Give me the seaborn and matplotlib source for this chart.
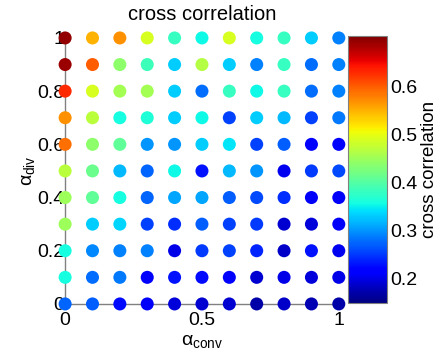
import numpy as np
import pandas as pd
import matplotlib
matplotlib.use('Agg')
import matplotlib.pyplot as plt
import seaborn as sns

# grid of alpha values
alpha_conv = [0.0, 0.1, 0.2, 0.3, 0.4, 0.5, 0.6, 0.7, 0.8, 0.9, 1.0]
alpha_div = [1.0, 0.9, 0.8, 0.7, 0.6, 0.5, 0.4, 0.3, 0.2, 0.1, 0.0]

# cross correlation, one row per alpha_div (top row = 1.0)
row_10 = [0.695, 0.55, 0.57, 0.49, 0.38, 0.355, 0.49, 0.36, 0.38, 0.33, 0.29]
row_09 = [0.69, 0.60, 0.44, 0.385, 0.33, 0.465, 0.33, 0.29, 0.38, 0.28, 0.29]
row_08 = [0.63, 0.49, 0.455, 0.455, 0.33, 0.28, 0.38, 0.355, 0.38, 0.28, 0.29]
row_07 = [0.57, 0.47, 0.36, 0.365, 0.33, 0.355, 0.255, 0.33, 0.32, 0.255, 0.285]
row_06 = [0.59, 0.44, 0.41, 0.30, 0.30, 0.33, 0.345, 0.255, 0.27, 0.22, 0.22]
row_05 = [0.47, 0.415, 0.32, 0.275, 0.355, 0.23, 0.32, 0.30, 0.205, 0.25, 0.26]
row_04 = [0.45, 0.41, 0.36, 0.275, 0.31, 0.31, 0.27, 0.26, 0.245, 0.21, 0.21]
row_03 = [0.45, 0.33, 0.335, 0.255, 0.245, 0.27, 0.255, 0.25, 0.19, 0.195, 0.21]
row_02 = [0.36, 0.295, 0.29, 0.29, 0.20, 0.25, 0.255, 0.24, 0.185, 0.23, 0.205]
row_01 = [0.36, 0.28, 0.285, 0.215, 0.23, 0.225, 0.215, 0.19, 0.20, 0.195, 0.20]
row_00 = [0.275, 0.27, 0.225, 0.21, 0.195, 0.19, 0.19, 0.17, 0.185, 0.175, 0.17]
rows = [row_10, row_09, row_08, row_07, row_06, row_05, row_04, row_03, row_02, row_01, row_00]

cbar_ticks = [0.2, 0.3, 0.4, 0.5, 0.6]
vmin, vmax = 0.15, 0.705

records = []
for yv, row in zip(alpha_div, rows):
    for xv, c in zip(alpha_conv, row):
        records.append({'conv': xv, 'div': yv, 'cc': c})
df = pd.DataFrame(records)

sns.set_style('white')
plt.rcParams['font.family'] = ['Liberation Sans', 'DejaVu Sans']
plt.rcParams['mathtext.fontset'] = 'custom'
plt.rcParams['mathtext.rm'] = 'Liberation Sans'
plt.rcParams['mathtext.it'] = 'Liberation Sans'
plt.rcParams['text.color'] = 'black'
plt.rcParams['axes.labelcolor'] = 'black'
plt.rcParams['xtick.color'] = 'black'
plt.rcParams['ytick.color'] = 'black'

jet = matplotlib.colormaps['jet']

fig = plt.figure(figsize=(4.4, 3.58), dpi=100)
ax = fig.add_axes([0.148, 0.151, 0.622, 0.743])
cax = fig.add_axes([0.791, 0.154, 0.089, 0.745])

sns.scatterplot(data=df, x='conv', y='div', hue='cc', palette=jet,
                hue_norm=(vmin, vmax), s=88, linewidth=0, legend=False,
                clip_on=False, ax=ax, zorder=3)

ax.set_xlim(0, 1)
ax.set_ylim(0, 1)
ax.set_xticks([0, 0.5, 1])
ax.set_xticklabels(['0', '0.5', '1'])
ax.set_yticks([0, 0.2, 0.4, 0.6, 0.8, 1])
ax.set_yticklabels(['0', '0.2', '0.4', '0.6', '0.8', '1'])
ax.tick_params(direction='in', length=0, labelsize=14)
ax.tick_params(axis='y', pad=0.5)
ax.tick_params(axis='x', pad=6)
for side in ['top', 'right']:
    ax.spines[side].set_visible(False)
for side in ['left', 'bottom']:
    ax.spines[side].set_color('grey')
    ax.spines[side].set_linewidth(1.0)
ax.set_xlabel(r'$\alpha_{\rm conv}$', fontsize=14, labelpad=3)
ax.set_ylabel(r'$\alpha_{\rm div}$', fontsize=14, labelpad=0)
ax.set_title('cross correlation', fontsize=14.5, pad=13)

sm = plt.cm.ScalarMappable(cmap=jet, norm=plt.Normalize(vmin, vmax))
cb = fig.colorbar(sm, cax=cax, ticks=cbar_ticks)
cb.ax.set_yticklabels(['0.2', '0.3', '0.4', '0.5', '0.6'])
cb.ax.tick_params(direction='in', length=3, labelsize=14, pad=2, color='grey')
cb.outline.set_edgecolor('grey')
cb.set_label('cross correlation', fontsize=13.5, labelpad=3)

fig.savefig('out.png', dpi=100)
